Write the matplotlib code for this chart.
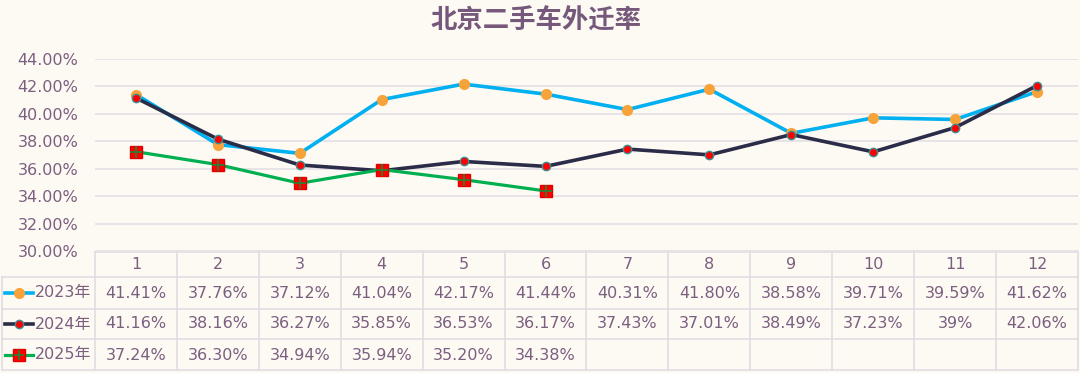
import matplotlib
matplotlib.use("Agg")
import matplotlib.pyplot as plt
from matplotlib.transforms import blended_transform_factory
from matplotlib.lines import Line2D

plt.rcParams['font.family'] = ['DejaVu Sans', 'Noto Sans CJK SC']

months = ['1', '2', '3', '4', '5', '6', '7', '8', '9', '10', '11', '12']
series_names = ['2023年', '2024年', '2025年']
v2023 = [41.41, 37.76, 37.12, 41.04, 42.17, 41.44, 40.31, 41.80, 38.58, 39.71, 39.59, 41.62]
v2024 = [41.16, 38.16, 36.27, 35.85, 36.53, 36.17, 37.43, 37.01, 38.49, 37.23, 39.00, 42.06]
v2025 = [37.24, 36.30, 34.94, 35.94, 35.20, 34.38]
labels2023 = ['41.41%', '37.76%', '37.12%', '41.04%', '42.17%', '41.44%', '40.31%', '41.80%', '38.58%', '39.71%', '39.59%', '41.62%']
labels2024 = ['41.16%', '38.16%', '36.27%', '35.85%', '36.53%', '36.17%', '37.43%', '37.01%', '38.49%', '37.23%', '39%', '42.06%']
labels2025 = ['37.24%', '36.30%', '34.94%', '35.94%', '35.20%', '34.38%']
yticks = [30, 32, 34, 36, 38, 40, 42, 44]

BG = '#FDFAF3'
TXT = '#7B5F80'
GRID = '#E2DDE3'
W, H = 1080, 373

fig = plt.figure(figsize=(10.8, 3.73), dpi=100, facecolor=BG)
ax = fig.add_axes([95 / W, 1 - 251 / H, 983 / W, 192 / H], facecolor=BG)

x = list(range(1, len(months) + 1))

ax.plot(x, v2023, color='#00B0F0', lw=2.6, zorder=3, solid_capstyle='round')
ax.plot(x, v2023, ls='none', marker='o', ms=7, mfc='#F7A33A', mec='#F7A33A', zorder=4)

ax.plot(x, v2024, color='#2A2C48', lw=2.6, zorder=5)
ax.plot(x, v2024, ls='none', marker='o', ms=6, mfc='#FF0000', mec='#3E8E93', mew=1.0, zorder=6)

x25 = x[:len(v2025)]
ax.plot(x25, v2025, color='#00B050', lw=2.3, zorder=7)
ax.plot(x25, v2025, ls='none', marker='s', ms=9, mfc='#FF0000', mec='#E00000', zorder=8)
ax.plot(x25, v2025, ls='none', marker='+', ms=8, mew=1.3, color='#2E7D32', zorder=9)

ax.set_xlim(0.5, 12.5)
ax.set_ylim(30, 44)
ax.set_yticks(yticks)
ax.set_yticklabels([f'{t:.2f}%' for t in yticks], fontsize=11.5, color=TXT)
ax.set_xticks([])
ax.tick_params(axis='y', length=0, pad=12)
ax.grid(axis='y', color=GRID, lw=1.1, zorder=0)
for s in ax.spines.values():
    s.set_visible(False)

fig.text(536 / W, 1 - 21 / H, '北京二手车外迁率', ha='center', va='center',
         fontsize=19, fontweight='bold', color='#76587B', family=['Noto Sans CJK SC'])

# data table
tr = blended_transform_factory(ax.transData, fig.transFigure)
tf = fig.transFigure
def fy(py):
    return 1 - py / H

row_edges = [252, 277, 309, 339, 370]
lc = dict(color=GRID, lw=1.2)
fig.add_artist(Line2D([0.5, 12.5], [fy(252)] * 2, transform=tr, **lc))
for py in row_edges[1:]:
    fig.add_artist(Line2D([2 / W, 1078 / W], [fy(py)] * 2, transform=tf, **lc))
for xb in [i + 0.5 for i in range(0, len(months) + 1)]:
    fig.add_artist(Line2D([xb, xb], [fy(252), fy(370)], transform=tr, **lc))
fig.add_artist(Line2D([2 / W, 2 / W], [fy(277), fy(370)], transform=tf, **lc))

fs = 11.5
for xi, m in zip(x, months):
    fig.text(xi, fy(264.5), m, transform=tr, ha='center', va='center', fontsize=fs, color=TXT)

rows = [labels2023, labels2024, labels2025]
centers = [293, 324, 355]
for labs, cy in zip(rows, centers):
    for xi, lab in zip(x, labs):
        fig.text(xi, fy(cy), lab, transform=tr, ha='center', va='center', fontsize=fs, color=TXT)

keys = [
    dict(color='#00B0F0', lw=2.6, marker='o', ms=7, mfc='#F7A33A', mec='#F7A33A'),
    dict(color='#2A2C48', lw=2.6, marker='o', ms=6, mfc='#FF0000', mec='#3E8E93'),
    dict(color='#00B050', lw=2.3, marker='s', ms=8, mfc='#FF0000', mec='#E00000'),
]
for name, cy, k in zip(series_names, centers, keys):
    fig.add_artist(Line2D([5 / W, 33 / W], [fy(cy)] * 2, transform=tf, color=k['color'], lw=k['lw']))
    fig.add_artist(Line2D([19 / W], [fy(cy)], transform=tf, ls='none', marker=k['marker'],
                          ms=k['ms'], mfc=k['mfc'], mec=k['mec']))
    fig.text(35 / W, fy(cy), name, transform=tf, ha='left', va='center', fontsize=fs, color=TXT)
fig.add_artist(Line2D([19 / W], [fy(centers[2])], transform=tf, ls='none', marker='+',
                      ms=7, mew=1.2, color='#2E7D32'))

fig.savefig('out.png', dpi=100, facecolor=BG)
